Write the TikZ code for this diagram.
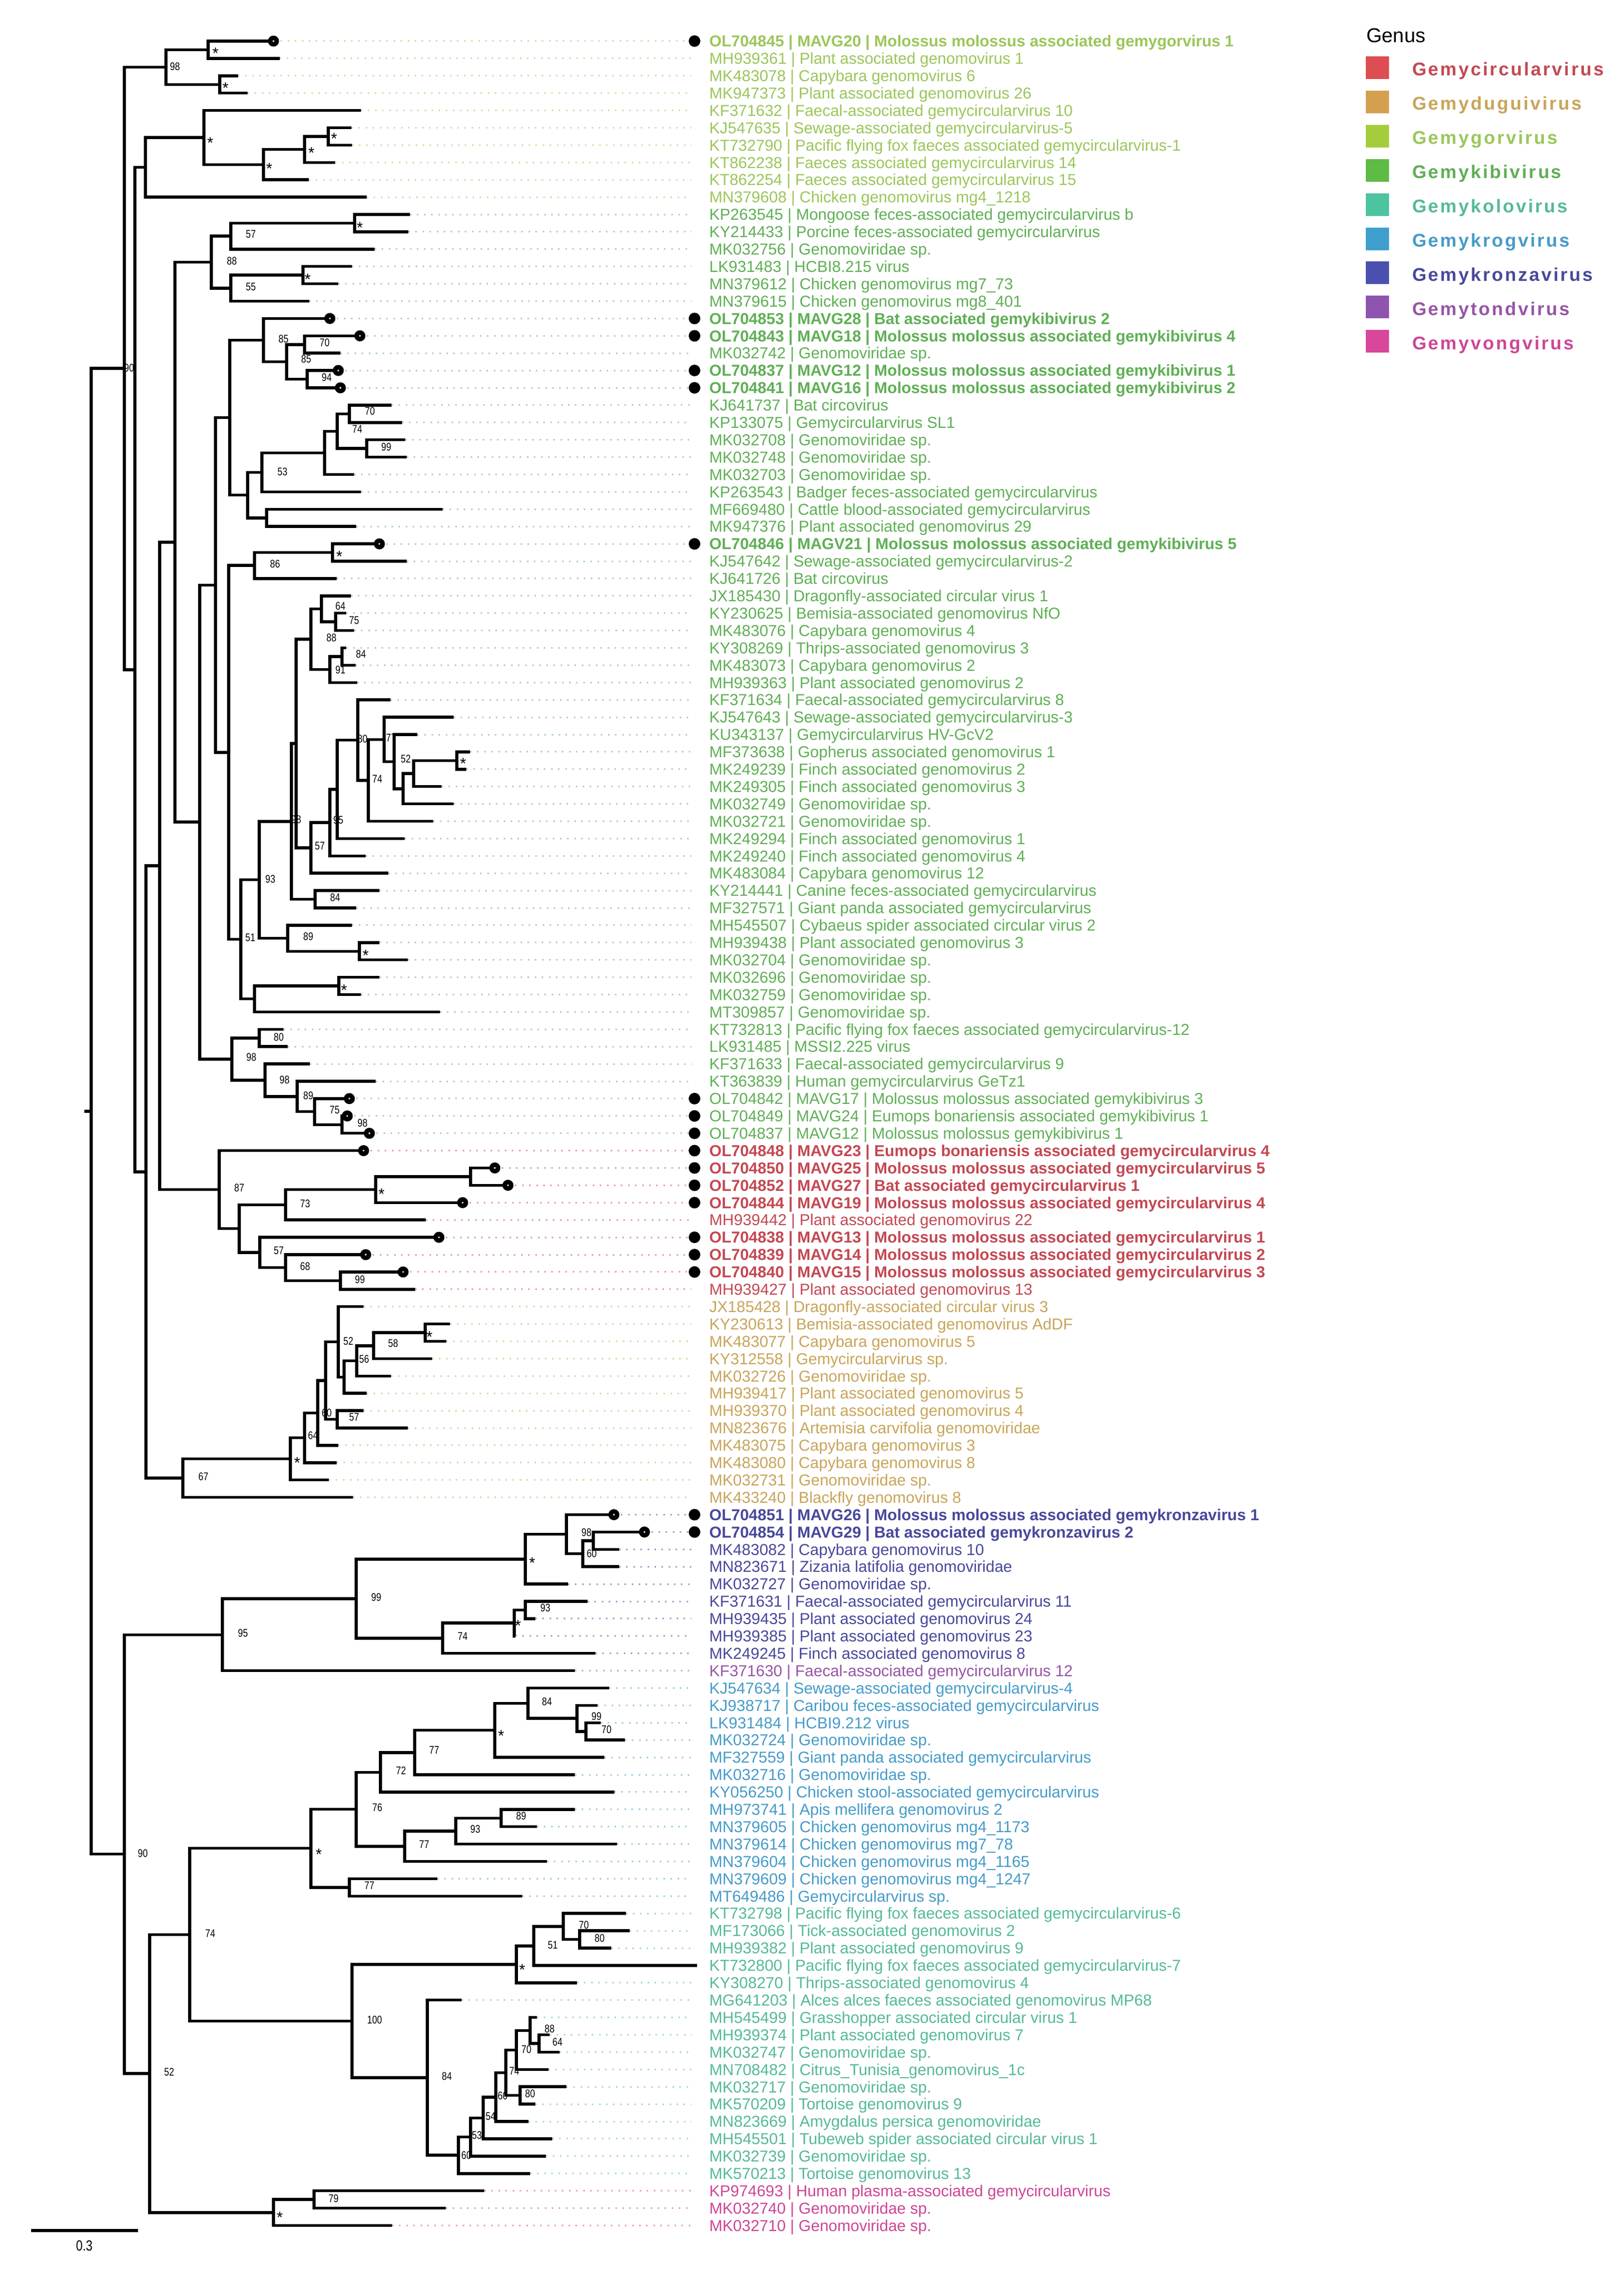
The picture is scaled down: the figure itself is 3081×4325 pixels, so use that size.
\documentclass[tikz,border=0pt]{standalone}
\usepackage{fontspec}
\setmainfont{Liberation Sans}
\newfontfamily\narrowfont[FakeStretch=0.8]{Liberation Sans}
\newfontfamily\legfont[LetterSpace=10]{Liberation Sans}
\usetikzlibrary{calc}
\definecolor{cGor}{RGB}{155,198,90}
\definecolor{cKibi}{RGB}{95,175,85}
\definecolor{cCirc}{RGB}{195,72,82}
\definecolor{cDug}{RGB}{200,165,90}
\definecolor{cKron}{RGB}{72,72,155}
\definecolor{cTond}{RGB}{150,85,165}
\definecolor{cKrog}{RGB}{70,155,200}
\definecolor{cKolo}{RGB}{85,185,155}
\definecolor{cVong}{RGB}{205,70,150}
\definecolor{sCirc}{RGB}{222,77,82}
\definecolor{sDug}{RGB}{212,160,80}
\definecolor{sGor}{RGB}{165,204,60}
\definecolor{sKibi}{RGB}{93,187,70}
\definecolor{sKolo}{RGB}{77,195,160}
\definecolor{sKrog}{RGB}{62,159,207}
\definecolor{sKron}{RGB}{74,79,176}
\definecolor{sTond}{RGB}{142,84,176}
\definecolor{sVong}{RGB}{217,71,154}
\newcommand\lfont{\fontsize{30}{36}\selectfont}
\newcommand\bsfont{\narrowfont\fontsize{21}{21}\selectfont}
\newcommand\lfcore[3]{%
  \coordinate (l#1) at (#2,{78+(#1-1)*32.9});
  \coordinate (e#1) at (1312,{78+(#1-1)*32.9});
  \draw[dt,#3!50!white] (l#1) -- (e#1);}
\newcommand\lf[4]{\lfcore{#1}{#2}{#3}%
  \node[lab,text=#3] (t#1) at (1346,{78+(#1-1)*32.9}) {#4};}
\newcommand\lfb[4]{\lfcore{#1}{#2}{#3}%
  \node[lab,text=#3,font=\lfont\bfseries] (t#1) at (1346,{78+(#1-1)*32.9}) {#4};}
\newcommand\inode[4]{%
  \path let \p1=($(#3)!0.5!(#4)$) in (#2pt,\y1) coordinate (#1);
  \draw[br] (#3) -| (#1) |- (#4);}
\newcounter{bsc}
\newcommand\bs[3]{\stepcounter{bsc}\node[bsl] (bs\thebsc) at (#1,#2) {#3};}
\newcommand\bst[2]{\stepcounter{bsc}\node[inner sep=0pt,font=\fontsize{30}{30}\selectfont] (bs\thebsc) at (#1,{#2+7}) {*};}
\begin{document}
\begin{tikzpicture}[x=1pt,y=-1pt,
  br/.style={line width=5.5pt,black,line join=miter},
  dt/.style={line width=3pt,dash pattern=on 3pt off 10.4pt},
  lab/.style={anchor=west,inner sep=0pt,text height=21.5pt,text depth=0pt,font=\lfont},
  bsl/.style={inner sep=0pt,font=\bsfont},
  sq/.style={minimum width=44pt,minimum height=43pt,inner sep=0pt},
  leg/.style={anchor=west,inner sep=0pt,text height=25pt,text depth=0pt,font=\legfont\bfseries\fontsize{35}{40}\selectfont}]
\fill[white] (0,0) rectangle (3081,4325);
\useasboundingbox (0,0) rectangle (3081,4325);
% ---------- leaves ----------
\lfb{1}{519}{cGor}{OL704845 | MAVG20 | Molossus molossus associated gemygorvirus 1}
\lf{2}{531}{cGor}{MH939361 | Plant associated genomovirus 1}
\lf{3}{452}{cGor}{MK483078 | Capybara genomovirus 6}
\lf{4}{470}{cGor}{MK947373 | Plant associated genomovirus 26}
\lf{5}{685}{cGor}{KF371632 | Faecal-associated gemycircularvirus 10}
\lf{6}{667}{cGor}{KJ547635 | Sewage-associated gemycircularvirus-5}
\lf{7}{668}{cGor}{KT732790 | Pacific flying fox faeces associated gemycircularvirus-1}
\lf{8}{636}{cGor}{KT862238 | Faeces associated gemycircularvirus 14}
\lf{9}{586}{cGor}{KT862254 | Faeces associated gemycircularvirus 15}
\lf{10}{696}{cGor}{MN379608 | Chicken genomovirus mg4\_1218}
\lf{11}{778}{cKibi}{KP263545 | Mongoose feces-associated gemycircularvirus b}
\lf{12}{775}{cKibi}{KY214433 | Porcine feces-associated gemycircularvirus}
\lf{13}{711}{cKibi}{MK032756 | Genomoviridae sp.}
\lf{14}{668}{cKibi}{LK931483 | HCBI8.215 virus}
\lf{15}{642}{cKibi}{MN379612 | Chicken genomovirus mg7\_73}
\lf{16}{587}{cKibi}{MN379615 | Chicken genomovirus mg8\_401}
\lfb{17}{626}{cKibi}{OL704853 | MAVG28 | Bat associated gemykibivirus 2}
\lfb{18}{683}{cKibi}{OL704843 | MAVG18 | Molossus molossus associated gemykibivirus 4}
\lf{19}{646}{cKibi}{MK032742 | Genomoviridae sp.}
\lfb{20}{642}{cKibi}{OL704837 | MAVG12 | Molossus molossus associated gemykibivirus 1}
\lfb{21}{646}{cKibi}{OL704841 | MAVG16 | Molossus molossus associated gemykibivirus 2}
\lf{22}{743}{cKibi}{KJ641737 | Bat circovirus}
\lf{23}{763}{cKibi}{KP133075 | Gemycircularvirus SL1}
\lf{24}{769}{cKibi}{MK032708 | Genomoviridae sp.}
\lf{25}{772}{cKibi}{MK032748 | Genomoviridae sp.}
\lf{26}{672}{cKibi}{MK032703 | Genomoviridae sp.}
\lf{27}{685}{cKibi}{KP263543 | Badger feces-associated gemycircularvirus}
\lf{28}{840}{cKibi}{MF669480 | Cattle blood-associated gemycircularvirus}
\lf{29}{676}{cKibi}{MK947376 | Plant associated genomovirus 29}
\lfb{30}{720}{cKibi}{OL704846 | MAGV21 | Molossus molossus associated gemykibivirus 5}
\lf{31}{772}{cKibi}{KJ547642 | Sewage-associated gemycircularvirus-2}
\lf{32}{639}{cKibi}{KJ641726 | Bat circovirus}
\lf{33}{666}{cKibi}{JX185430 | Dragonfly-associated circular virus 1}
\lf{34}{657}{cKibi}{KY230625 | Bemisia-associated genomovirus NfO}
\lf{35}{672}{cKibi}{MK483076 | Capybara genomovirus 4}
\lf{36}{657}{cKibi}{KY308269 | Thrips-associated genomovirus 3}
\lf{37}{675}{cKibi}{MK483073 | Capybara genomovirus 2}
\lf{38}{678}{cKibi}{MH939363 | Plant associated genomovirus 2}
\lf{39}{741}{cKibi}{KF371634 | Faecal-associated gemycircularvirus 8}
\lf{40}{861}{cKibi}{KJ547643 | Sewage-associated gemycircularvirus-3}
\lf{41}{792}{cKibi}{KU343137 | Gemycircularvirus HV-GcV2}
\lf{42}{892}{cKibi}{MF373638 | Gopherus associated genomovirus 1}
\lf{43}{885}{cKibi}{MK249239 | Finch associated genomovirus 2}
\lf{44}{838}{cKibi}{MK249305 | Finch associated genomovirus 3}
\lf{45}{861}{cKibi}{MK032749 | Genomoviridae sp.}
\lf{46}{822}{cKibi}{MK032721 | Genomoviridae sp.}
\lf{47}{768}{cKibi}{MK249294 | Finch associated genomovirus 1}
\lf{48}{694}{cKibi}{MK249240 | Finch associated genomovirus 4}
\lf{49}{737}{cKibi}{MK483084 | Capybara genomovirus 12}
\lf{50}{720}{cKibi}{KY214441 | Canine feces-associated gemycircularvirus}
\lf{51}{676}{cKibi}{MF327571 | Giant panda associated gemycircularvirus}
\lf{52}{668}{cKibi}{MH545507 | Cybaeus spider associated circular virus 2}
\lf{53}{720}{cKibi}{MH939438 | Plant associated genomovirus 3}
\lf{54}{774}{cKibi}{MK032704 | Genomoviridae sp.}
\lf{55}{720}{cKibi}{MK032696 | Genomoviridae sp.}
\lf{56}{685}{cKibi}{MK032759 | Genomoviridae sp.}
\lf{57}{835}{cKibi}{MT309857 | Genomoviridae sp.}
\lf{58}{538}{cKibi}{KT732813 | Pacific flying fox faeces associated gemycircularvirus-12}
\lf{59}{546}{cKibi}{LK931485 | MSSI2.225 virus}
\lf{60}{588}{cKibi}{KF371633 | Faecal-associated gemycircularvirus 9}
\lf{61}{713}{cKibi}{KT363839 | Human gemycircularvirus GeTz1}
\lf{62}{663}{cKibi}{OL704842 | MAVG17 | Molossus molossus associated gemykibivirus 3}
\lf{63}{659}{cKibi}{OL704849 | MAVG24 | Eumops bonariensis associated gemykibivirus 1}
\lf{64}{701}{cKibi}{OL704837 | MAVG12 | Molossus molossus gemykibivirus 1}
\lfb{65}{690}{cCirc}{OL704848 | MAVG23 | Eumops bonariensis associated gemycircularvirus 4}
\lfb{66}{939}{cCirc}{OL704850 | MAVG25 | Molossus molossus associated gemycircularvirus 5}
\lfb{67}{964}{cCirc}{OL704852 | MAVG27 | Bat associated gemycircularvirus 1}
\lfb{68}{878}{cCirc}{OL704844 | MAVG19 | Molossus molossus associated gemycircularvirus 4}
\lf{69}{808}{cCirc}{MH939442 | Plant associated genomovirus 22}
\lfb{70}{833}{cCirc}{OL704838 | MAVG13 | Molossus molossus associated gemycircularvirus 1}
\lfb{71}{694}{cCirc}{OL704839 | MAVG14 | Molossus molossus associated gemycircularvirus 2}
\lfb{72}{765}{cCirc}{OL704840 | MAVG15 | Molossus molossus associated gemycircularvirus 3}
\lf{73}{788}{cCirc}{MH939427 | Plant associated genomovirus 13}
\lf{74}{690}{cDug}{JX185428 | Dragonfly-associated circular virus 3}
\lf{75}{854}{cDug}{KY230613 | Bemisia-associated genomovirus AdDF}
\lf{76}{847}{cDug}{MK483077 | Capybara genomovirus 5}
\lf{77}{820}{cDug}{KY312558 | Gemycircularvirus sp.}
\lf{78}{742}{cDug}{MK032726 | Genomoviridae sp.}
\lf{79}{696}{cDug}{MH939417 | Plant associated genomovirus 5}
\lf{80}{690}{cDug}{MH939370 | Plant associated genomovirus 4}
\lf{81}{774}{cDug}{MN823676 | Artemisia carvifolia genomoviridae}
\lf{82}{642}{cDug}{MK483075 | Capybara genomovirus 3}
\lf{83}{639}{cDug}{MK483080 | Capybara genomovirus 8}
\lf{84}{624}{cDug}{MK032731 | Genomoviridae sp.}
\lf{85}{670}{cDug}{MK433240 | Blackfly genomovirus 8}
\lfb{86}{1165}{cKron}{OL704851 | MAVG26 | Molossus molossus associated gemykronzavirus 1}
\lfb{87}{1223}{cKron}{OL704854 | MAVG29 | Bat associated gemykronzavirus 2}
\lf{88}{1175}{cKron}{MK483082 | Capybara genomovirus 10}
\lf{89}{1175}{cKron}{MN823671 | Zizania latifolia genomoviridae}
\lf{90}{1078}{cKron}{MK032727 | Genomoviridae sp.}
\lf{91}{1115}{cKron}{KF371631 | Faecal-associated gemycircularvirus 11}
\lf{92}{1016}{cKron}{MH939435 | Plant associated genomovirus 24}
\lf{93}{978}{cKron}{MH939385 | Plant associated genomovirus 23}
\lf{94}{1130}{cKron}{MK249245 | Finch associated genomovirus 8}
\lf{95}{1091}{cTond}{KF371630 | Faecal-associated gemycircularvirus 12}
\lf{96}{1156}{cKrog}{KJ547634 | Sewage-associated gemycircularvirus-4}
\lf{97}{1134}{cKrog}{KJ938717 | Caribou feces-associated gemycircularvirus}
\lf{98}{1140}{cKrog}{LK931484 | HCBI9.212 virus}
\lf{99}{1186}{cKrog}{MK032724 | Genomoviridae sp.}
\lf{100}{1147}{cKrog}{MF327559 | Giant panda associated gemycircularvirus}
\lf{101}{1091}{cKrog}{MK032716 | Genomoviridae sp.}
\lf{102}{1166}{cKrog}{KY056250 | Chicken stool-associated gemycircularvirus}
\lf{103}{1091}{cKrog}{MH973741 | Apis mellifera genomovirus 2}
\lf{104}{1019}{cKrog}{MN379605 | Chicken genomovirus mg4\_1173}
\lf{105}{1171}{cKrog}{MN379614 | Chicken genomovirus mg7\_78}
\lf{106}{1038}{cKrog}{MN379604 | Chicken genomovirus mg4\_1165}
\lf{107}{830}{cKrog}{MN379609 | Chicken genomovirus mg4\_1247}
\lf{108}{991}{cKrog}{MT649486 | Gemycircularvirus sp.}
\lf{109}{1188}{cKolo}{KT732798 | Pacific flying fox faeces associated gemycircularvirus-6}
\lf{110}{1195}{cKolo}{MF173066 | Tick-associated genomovirus 2}
\lf{111}{1160}{cKolo}{MH939382 | Plant associated genomovirus 9}
\lf{112}{1323}{cKolo}{KT732800 | Pacific flying fox faeces associated gemycircularvirus-7}
\lf{113}{1095}{cKolo}{KY308270 | Thrips-associated genomovirus 4}
\lf{114}{876}{cKolo}{MG641203 | Alces alces faeces associated genomovirus MP68}
\lf{115}{1019}{cKolo}{MH545499 | Grasshopper associated circular virus 1}
\lf{116}{1043}{cKolo}{MH939374 | Plant associated genomovirus 7}
\lf{117}{1062}{cKolo}{MK032747 | Genomoviridae sp.}
\lf{118}{1041}{cKolo}{MN708482 | Citrus\_Tunisia\_genomovirus\_1c}
\lf{119}{1075}{cKolo}{MK032717 | Genomoviridae sp.}
\lf{120}{1016}{cKolo}{MK570209 | Tortoise genomovirus 9}
\lf{121}{1003}{cKolo}{MN823669 | Amygdalus persica genomoviridae}
\lf{122}{1048}{cKolo}{MH545501 | Tubeweb spider associated circular virus 1}
\lf{123}{1036}{cKolo}{MK032739 | Genomoviridae sp.}
\lf{124}{1006}{cKolo}{MK570213 | Tortoise genomovirus 13}
\lf{125}{919}{cVong}{KP974693 | Human plasma-associated gemycircularvirus}
\lf{126}{846}{cVong}{MK032740 | Genomoviridae sp.}
\lf{127}{744}{cVong}{MK032710 | Genomoviridae sp.}
% ---------- internal nodes (upper half) ----------
\inode{n395}{395}{l1}{l2}
\inode{n417}{417}{l3}{l4}
\inode{C1}{315}{n395}{n417}
\inode{n623}{623}{l6}{l7}
\inode{n578}{578}{n623}{l8}
\inode{n500}{500}{n578}{l9}
\inode{n387}{387}{l5}{n500}
\inode{n276}{276}{n387}{l10}
\inode{n673}{673}{l11}{l12}
\inode{J}{438}{n673}{l13}
\inode{n575}{575}{l14}{l15}
\inode{K}{438}{n575}{l16}
\inode{H}{401}{J}{K}
\inode{S}{578}{l18}{l19}
\inode{T}{583}{l20}{l21}
\inode{R}{544}{S}{T}
\inode{P}{500}{l17}{R}
\inode{n663}{663}{l22}{l23}
\inode{n696}{696}{l24}{l25}
\inode{X}{640}{n663}{n696}
\inode{W}{616}{X}{l26}
\inode{U}{497}{W}{l27}
\inode{V}{506}{l28}{l29}
\inode{Q}{470}{U}{V}
\inode{N}{436}{P}{Q}
\inode{n631}{631}{l30}{l31}
\inode{n86}{483}{n631}{l32}
\inode{a2}{637}{l34}{l35}
\inode{a1}{610}{l33}{a2}
\inode{a4}{649}{l36}{l37}
\inode{a3}{626}{a4}{l38}
\inode{a5}{590}{a1}{a3}
\inode{nst}{867}{l42}{l43}
\inode{n52}{785}{nst}{l44}
\inode{a15}{765}{n52}{l45}
\inode{a14}{748}{l41}{a15}
\inode{a13}{729}{l40}{a14}
\inode{a12}{699}{a13}{l46}
\inode{a11}{679}{l39}{a12}
\inode{a10}{640}{a11}{l47}
\inode{a9}{626}{a10}{l48}
\inode{a7}{590}{a9}{l49}
\inode{a6}{562}{a5}{a7}
\inode{b1}{598}{l50}{l51}
\inode{a8}{553}{a6}{b1}
\inode{n682}{682}{l53}{l54}
\inode{n89}{546}{l52}{n682}
\inode{n93}{492}{a8}{n89}
\inode{n643}{643}{l55}{l56}
\inode{c1}{483}{n643}{l57}
\inode{n51}{457}{n93}{c1}
\inode{O}{434}{n86}{n51}
\inode{L}{409}{N}{O}
\inode{n80}{492}{l58}{l59}
\inode{n649}{649}{l63}{l64}
\inode{n597}{597}{l62}{n649}
\inode{n564}{564}{l61}{n597}
\inode{n503}{503}{l60}{n564}
\inode{M}{440}{n80}{n503}
\inode{I}{379}{L}{M}
\inode{F}{332}{H}{I}
\inode{g5}{893}{l66}{l67}
\inode{g4}{713}{g5}{l68}
\inode{g2}{542}{g4}{l69}
\inode{g7}{646}{l72}{l73}
\inode{g6}{542}{l71}{g7}
\inode{g3}{493}{l70}{g6}
\inode{g1}{454}{g2}{g3}
\inode{G}{416}{l65}{g1}
\inode{E}{303}{F}{G}
\inode{d10}{807}{l75}{l76}
\inode{d9}{709}{d10}{l77}
\inode{d8}{677}{d9}{l78}
\inode{d7}{653}{d8}{l79}
\inode{d5}{642}{l74}{d7}
\inode{d6}{640}{l80}{l81}
\inode{d4}{618}{d5}{d6}
\inode{d3}{603}{d4}{l82}
\inode{d2}{578}{d3}{l83}
\inode{d1}{551}{d2}{l84}
\inode{d0}{347}{d1}{l85}
\inode{D}{277}{E}{d0}
\inode{B}{256}{n276}{D}
\inode{A}{236}{C1}{B}
% ---------- internal nodes (lower half) ----------
\inode{k6}{1126}{l87}{l88}
\inode{k5}{1106}{k6}{l89}
\inode{k4}{1075}{l86}{k5}
\inode{k2}{997}{k4}{l90}
\inode{k8}{997}{l91}{l92}
\inode{k7}{976}{k8}{l93}
\inode{k3}{840}{k7}{l94}
\inode{k1}{676}{k2}{k3}
\inode{K0}{422}{k1}{l95}
\inode{kr9}{1112}{l98}{l99}
\inode{kr8}{1095}{l97}{kr9}
\inode{kr7}{1002}{l96}{kr8}
\inode{kr6}{939}{kr7}{l100}
\inode{kr5}{787}{kr6}{l101}
\inode{kr3}{722}{kr5}{l102}
\inode{kr11}{951}{l103}{l104}
\inode{kr10}{865}{kr11}{l105}
\inode{kr4}{768}{kr10}{l106}
\inode{kr1}{676}{kr3}{kr4}
\inode{kr2}{663}{l107}{l108}
\inode{KR}{590}{kr1}{kr2}
\inode{y35}{1100}{l110}{l111}
\inode{y34}{1069}{l109}{y35}
\inode{y33}{1013}{y34}{l112}
\inode{y31}{980}{y33}{l113}
\inode{y44}{1023}{l116}{l117}
\inode{y43}{1006}{l115}{y44}
\inode{y41}{980}{y43}{l118}
\inode{y42}{987}{l119}{l120}
\inode{y40}{960}{y41}{y42}
\inode{y39}{941}{y40}{l121}
\inode{y38}{917}{y39}{l122}
\inode{y37}{893}{y38}{l123}
\inode{y36}{870}{y37}{l124}
\inode{y32}{811}{l114}{y36}
\inode{Y3}{668}{y31}{y32}
\inode{Y1}{360}{KR}{Y3}
\inode{y45}{596}{l125}{l126}
\inode{Y2}{519}{y45}{l127}
\inode{Y}{284}{Y1}{Y2}
\inode{Z}{236}{K0}{Y}
\inode{root}{173}{A}{Z}
\coordinate (rootstub) at ($(root)+(-13,0)$);
\draw[br] (rootstub) -- (root);
% ---------- tip markers ----------
\foreach \i in {1,17,18,20,21,30,62,63,64,65,66,67,68,70,71,72,86,87}{
  \fill (l\i) circle[radius=10.5];
  \fill[white] (l\i) circle[radius=1.8];
  \fill ([xshift=6pt]e\i) circle[radius=11];}
% ---------- support values ----------
\bs{245}{698}{90}\bs{332}{126}{98}\bst{409}{94}\bst{428}{160}\bst{399}{264}
\bst{511}{313}\bst{591}{283}\bst{634}{256}\bs{476}{444}{57}\bs{440}{495}{88}
\bs{476}{544}{55}\bst{683}{425}\bst{584}{523}\bs{538}{643}{85}\bs{616}{650}{70}
\bs{581}{681}{85}\bs{620}{716}{94}\bs{702}{780}{70}\bs{678}{814}{74}\bs{733}{848}{99}
\bs{536}{895}{53}\bs{522}{1070}{86}\bst{644}{1049}\bs{646}{1150}{64}\bs{672}{1177}{75}
\bs{629}{1210}{88}\bs{685}{1241}{84}\bs{646}{1271}{91}\bs{688}{1402}{80}\bs{742}{1400}{77}
\bs{770}{1440}{52}\bst{879}{1442}\bs{716}{1478}{74}\bs{562}{1555}{98}\bs{642}{1556}{95}
\bs{607}{1605}{57}\bs{513}{1668}{93}\bs{636}{1703}{84}\bs{585}{1777}{89}\bs{475}{1779}{51}
\bst{694}{1806}\bst{653}{1872}\bs{529}{1968}{80}\bs{477}{2006}{98}\bs{540}{2049}{98}
\bs{585}{2079}{89}\bs{635}{2106}{75}\bs{688}{2131}{98}\bs{454}{2254}{87}\bs{579}{2284}{73}
\bst{724}{2259}\bs{529}{2373}{57}\bs{579}{2403}{68}\bs{683}{2428}{99}\bs{661}{2545}{52}
\bst{815}{2530}\bs{746}{2549}{58}\bs{691}{2579}{56}\bs{620}{2681}{60}\bs{672}{2689}{57}
\bs{594}{2724}{64}\bst{564}{2769}\bs{386}{2802}{67}
\bs{1113}{2908}{98}\bs{1123}{2948}{60}\bst{1010}{2959}\bs{714}{3031}{99}\bs{1035}{3051}{93}
\bst{983}{3078}\bs{878}{3105}{74}\bs{461}{3099}{95}\bs{1038}{3229}{84}\bs{1132}{3257}{99}
\bs{1151}{3282}{70}\bst{951}{3287}\bs{824}{3321}{77}\bs{761}{3360}{72}\bs{716}{3430}{76}
\bs{989}{3446}{89}\bs{902}{3471}{93}\bs{805}{3500}{77}\bst{605}{3512}\bs{271}{3517}{90}
\bs{701}{3578}{77}\bs{399}{3669}{74}\bs{1108}{3653}{70}\bs{1138}{3678}{80}\bs{1049}{3691}{51}
\bst{991}{3731}\bs{711}{3833}{100}\bs{1043}{3850}{88}\bs{1058}{3875}{64}\bs{999}{3889}{70}
\bs{976}{3930}{74}\bs{321}{3932}{52}\bs{848}{3940}{84}\bs{1006}{3973}{80}\bs{954}{3977}{60}
\bs{931}{4016}{54}\bs{905}{4052}{53}\bs{885}{4090}{60}\bs{633}{4172}{79}\bst{531}{4201}
% ---------- scale bar ----------
\coordinate (sb1) at (59,4233);
\coordinate (sb2) at (262,4233);
\draw[br] (sb1) -- (sb2);
\node[font=\narrowfont\fontsize{28}{28}\selectfont,inner sep=0pt] (sbl) at (160,4262) {0.3};
% ---------- legend ----------
\node[anchor=west,inner sep=0pt,font=\fontsize{38}{40}\selectfont] (genus) at (2593,67) {Genus};
\node[sq,fill=sCirc] (sq1) at (2614,128.5) {};
\node[sq,fill=sDug]  (sq2) at (2614,193.4) {};
\node[sq,fill=sGor]  (sq3) at (2614,258.3) {};
\node[sq,fill=sKibi] (sq4) at (2614,323.2) {};
\node[sq,fill=sKolo] (sq5) at (2614,388.1) {};
\node[sq,fill=sKrog] (sq6) at (2614,453.0) {};
\node[sq,fill=sKron] (sq7) at (2614,517.9) {};
\node[sq,fill=sTond] (sq8) at (2614,582.8) {};
\node[sq,fill=sVong] (sq9) at (2614,647.7) {};
\node[leg,text=cCirc] (lg1) at (2680,131) {Gemycircularvirus};
\node[leg,text=cDug]  (lg2) at (2680,196) {Gemyduguivirus};
\node[leg,text=cGor]  (lg3) at (2680,261) {Gemygorvirus};
\node[leg,text=cKibi] (lg4) at (2680,326) {Gemykibivirus};
\node[leg,text=cKolo] (lg5) at (2680,391) {Gemykolovirus};
\node[leg,text=cKrog] (lg6) at (2680,456) {Gemykrogvirus};
\node[leg,text=cKron] (lg7) at (2680,521) {Gemykronzavirus};
\node[leg,text=cTond] (lg8) at (2680,586) {Gemytondvirus};
\node[leg,text=cVong] (lg9) at (2680,651) {Gemyvongvirus};
\end{tikzpicture}
\end{document}
